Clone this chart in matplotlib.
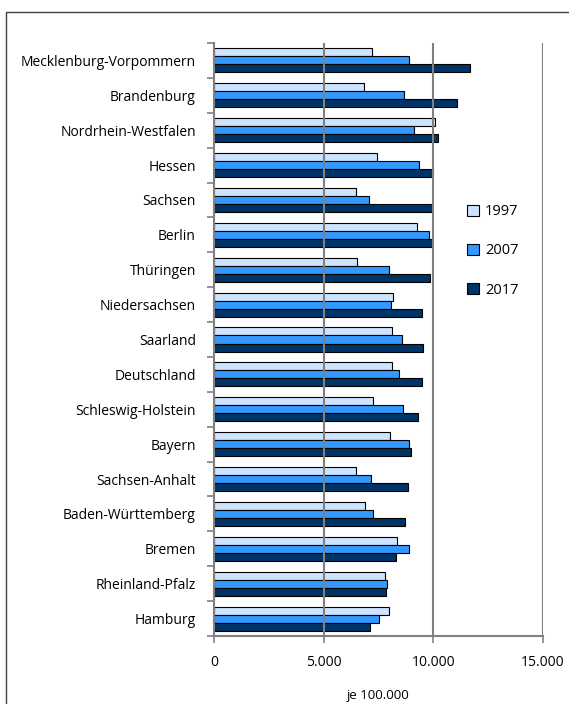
"""
Horizontale Balken je Bundesland: 1997, 2007, 2017 (je 100.000).
"""

import numpy as np
import matplotlib
matplotlib.use('Agg')
import matplotlib.pyplot as plt
from matplotlib.patches import Rectangle
from matplotlib.ticker import FuncFormatter

laender = ['Mecklenburg-Vorpommern', 'Brandenburg', 'Nordrhein-Westfalen', 'Hessen',
           'Sachsen', 'Berlin', 'Thüringen', 'Niedersachsen', 'Saarland', 'Deutschland',
           'Schleswig-Holstein', 'Bayern', 'Sachsen-Anhalt', 'Baden-Württemberg',
           'Bremen', 'Rheinland-Pfalz', 'Hamburg']

werte_1997 = [7210, 6840, 10090, 7440, 6490, 9270, 6530, 8170, 8110, 8100,
              7230, 8040, 6490, 6900, 8340, 7780, 7990]
werte_2007 = [8870, 8670, 9130, 9360, 7050, 9790, 7980, 8050, 8570, 8450,
              8610, 8900, 7140, 7260, 8900, 7900, 7520]
werte_2017 = [11670, 11060, 10190, 9970, 9950, 9920, 9830, 9490, 9510, 9480,
              9310, 8970, 8840, 8690, 8280, 7840, 7120]

jahre = ['1997', '2007', '2017']
farben = ['#CCE4FF', '#3399FF', '#003366']

plt.rcParams['font.family'] = ['Open Sans', 'DejaVu Sans']

fig = plt.figure(figsize=(5.69, 7.04), dpi=100)
ax = fig.add_axes([214 / 569, 1 - 636 / 704, 329 / 569, 593 / 704])

# Rahmen um das Diagramm
fig.patches.append(Rectangle((6 / 569, -0.1), 1.2, (704 - 12) / 704 + 0.1,
                             transform=fig.transFigure, fill=False,
                             edgecolor='#404040', linewidth=1.0))

y = np.arange(len(laender))
h = 0.23
for k, (werte, farbe, jahr) in enumerate(zip([werte_1997, werte_2007, werte_2017], farben, jahre)):
    ax.barh(y + (k - 1) * h, werte, height=h, color=farbe, edgecolor='black',
            linewidth=0.8, label=jahr, zorder=2)

for gx in [5000, 10000, 15000]:
    ax.axvline(gx, color='#808080', linewidth=1.5, zorder=3)

ax.set_xlim(0, 15000)
ax.set_ylim(len(laender) - 0.5, -0.5)
ax.set_xticks([0, 5000, 10000, 15000])
ax.xaxis.set_major_formatter(FuncFormatter(lambda v, p: f'{int(v):,}'.replace(',', '.')))
ax.set_yticks(y)
ax.set_yticklabels(laender)
ax.set_yticks(np.arange(-0.5, len(laender), 1), minor=True)
ax.tick_params(axis='y', which='major', length=0, pad=13, labelsize=10)
ax.tick_params(axis='y', which='minor', length=5, color='#808080', width=1.2)
ax.tick_params(axis='x', length=5, color='#808080', width=1.2, labelsize=10, pad=9)
ax.set_xlabel('je 100.000', fontsize=9.5, labelpad=13)

for s in ['top', 'right']:
    ax.spines[s].set_visible(False)
for s in ['left', 'bottom']:
    ax.spines[s].set_color('#808080')
    ax.spines[s].set_linewidth(1.5)

ax.legend(loc='upper left', bbox_to_anchor=(0.73, 0.75), frameon=False, fontsize=10.5,
          handlelength=0.8, handleheight=0.8, labelspacing=1.65, handletextpad=0.4)

fig.savefig('out.png', dpi=100)
